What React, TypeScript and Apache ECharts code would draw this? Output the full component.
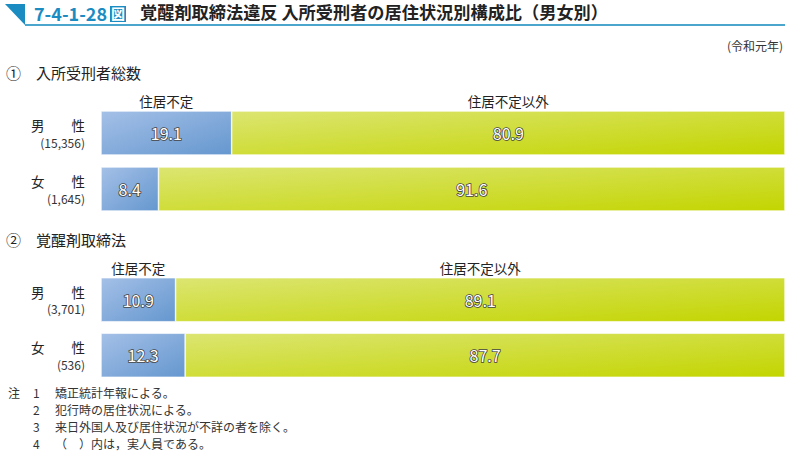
import React, { useEffect, useRef } from "react";
import * as echarts from "echarts";

const categories1 = ["男　　性", "女　　性"];
const counts1 = ["(15,356)", "(1,645)"];
const homeless1 = [19.1, 8.4];
const notHomeless1 = [80.9, 91.6];

const categories2 = ["男　　性", "女　　性"];
const counts2 = ["(3,701)", "(536)"];
const homeless2 = [10.9, 12.3];
const notHomeless2 = [89.1, 87.7];

const seriesNames = ["住居不定", "住居不定以外"];
const sectionTitles = ["①　入所受刑者総数", "②　覚醒剤取締法"];
const notes = [
  ["注", "1", "矯正統計年報による。"],
  ["", "2", "犯行時の居住状況による。"],
  ["", "3", "来日外国人及び居住状況が不詳の者を除く。"],
  ["", "4", "（　）内は，実人員である。"],
];

const FONT = "'Noto Sans CJK JP', 'Noto Sans', sans-serif";

export default function App() {
  const ref = useRef<HTMLDivElement>(null);
  useEffect(() => {
    if (!ref.current) return;
    document.body.style.margin = "0";
    const chart = echarts.init(ref.current, undefined, { renderer: "svg" });
    const blue = new echarts.graphic.LinearGradient(0, 0, 1, 1, [
      { offset: 0, color: "#a4c0e7" },
      { offset: 1, color: "#6597cf" },
    ]);
    const green = new echarts.graphic.LinearGradient(0, 0, 1, 1, [
      { offset: 0, color: "#dce571" },
      { offset: 1, color: "#c3d500" },
    ]);
    const valueLabel = {
      show: true,
      position: "inside" as const,
      color: "#fff",
      fontSize: 16,
      fontFamily: FONT,
      textBorderColor: "#444",
      textBorderWidth: 1.6,
      formatter: (p: any) => p.value.toFixed(1),
    };
    const headLabel = (name: string) => ({
      show: true,
      position: "inside" as const,
      offset: [0, -32],
      color: "#222",
      fontSize: 13.5,
      fontFamily: FONT,
      formatter: name,
    });
    const makeSeries = (
      idx: number,
      a: number[],
      b: number[],
      cats: string[]
    ) => [
      {
        name: seriesNames[0],
        type: "bar",
        stack: "s" + idx,
        xAxisIndex: idx,
        yAxisIndex: idx,
        barWidth: 44,
        data: a,
        itemStyle: { color: blue, borderColor: "#fff", borderWidth: 0.6 },
        label: valueLabel,
        markPoint: {
          symbol: "rect",
          symbolSize: 1,
          itemStyle: { color: "rgba(0,0,0,0)" },
          label: headLabel(seriesNames[0]),
          data: [{ coord: [a[0] / 2, cats[0]] }],
        },
      },
      {
        name: seriesNames[1],
        type: "bar",
        stack: "s" + idx,
        xAxisIndex: idx,
        yAxisIndex: idx,
        barWidth: 44,
        data: b,
        itemStyle: { color: green, borderColor: "#fff", borderWidth: 0.6 },
        label: valueLabel,
        markPoint: {
          symbol: "rect",
          symbolSize: 1,
          itemStyle: { color: "rgba(0,0,0,0)" },
          label: headLabel(seriesNames[1]),
          data: [{ coord: [a[0] + b[0] / 2, cats[0]] }],
        },
      },
    ];
    const yAxis = (idx: number, cats: string[], counts: string[]) => ({
      type: "category",
      gridIndex: idx,
      inverse: true,
      data: cats,
      axisLine: { show: false },
      axisTick: { show: false },
      axisLabel: {
        margin: 16,
        align: "right",
        formatter: (v: string) => {
          const i = cats.indexOf(v);
          return "{a|" + v + "}\n{b|" + counts[i] + "}";
        },
        rich: {
          a: { fontSize: 13.5, fontFamily: FONT, color: "#222", lineHeight: 18, align: "right" },
          b: { fontSize: 12, fontFamily: FONT, color: "#333", lineHeight: 16, align: "right" },
        },
      },
    });
    const xAxis = (idx: number) => ({
      type: "value",
      gridIndex: idx,
      min: 0,
      max: 100,
      show: false,
    });
    const noteTexts: any[] = [];
    notes.forEach((n, i) => {
      const y = 393 + i * 17;
      noteTexts.push(
        { type: "text", left: 8, top: y - 7, style: { text: n[0], fontSize: 12, fontFamily: FONT, fill: "#333" } },
        { type: "text", left: 33, top: y - 7, style: { text: n[1], fontSize: 12, fontFamily: FONT, fill: "#333" } },
        { type: "text", left: 55, top: y - 7, style: { text: n[2], fontSize: 12, fontFamily: FONT, fill: "#333" } }
      );
    });
    chart.setOption({
      animation: false,
      grid: [
        { left: 101, right: 10, top: 105, height: 112 },
        { left: 101, right: 10, top: 272, height: 111 },
      ],
      xAxis: [xAxis(0), xAxis(1)],
      yAxis: [yAxis(0, categories1, counts1), yAxis(1, categories2, counts2)],
      series: [
        ...makeSeries(0, homeless1, notHomeless1, categories1),
        ...makeSeries(1, homeless2, notHomeless2, categories2),
      ],
      graphic: [
        { type: "polygon", shape: { points: [[5, 4], [25, 4], [25, 25]] }, style: { fill: "#1b8cc2" } },
        { type: "line", shape: { x1: 25, y1: 25, x2: 785, y2: 25 }, style: { stroke: "#4aa6cc", lineWidth: 2 } },
        { type: "text", left: 34, top: 4, style: { text: "7-4-1-28", fontSize: 18, fontWeight: "bold", fontFamily: FONT, fill: "#1b8cc2" } },
        { type: "rect", shape: { x: 110, y: 6, width: 16, height: 16 }, style: { fill: "#1b8cc2" } },
        { type: "text", left: 111, top: 6, style: { text: "図", fontSize: 14, fontWeight: "bold", fontFamily: FONT, fill: "#fff" } },
        { type: "text", left: 140, top: 3, style: { text: "覚醒剤取締法違反 入所受刑者の居住状況別構成比（男女別）", fontSize: 17.2, fontWeight: "bold", fontFamily: FONT, fill: "#222" } },
        { type: "text", right: 12, top: 39, style: { text: "(令和元年)", fontSize: 12, fontFamily: FONT, fill: "#333" } },
        { type: "text", left: 6, top: 65, style: { text: sectionTitles[0], fontSize: 15, fontFamily: FONT, fill: "#222" } },
        { type: "text", left: 6, top: 232, style: { text: sectionTitles[1], fontSize: 15, fontFamily: FONT, fill: "#222" } },
        ...noteTexts,
      ],
    });
    return () => chart.dispose();
  }, []);
  return <div ref={ref} style={{ width: 795, height: 456 }} />;
}
